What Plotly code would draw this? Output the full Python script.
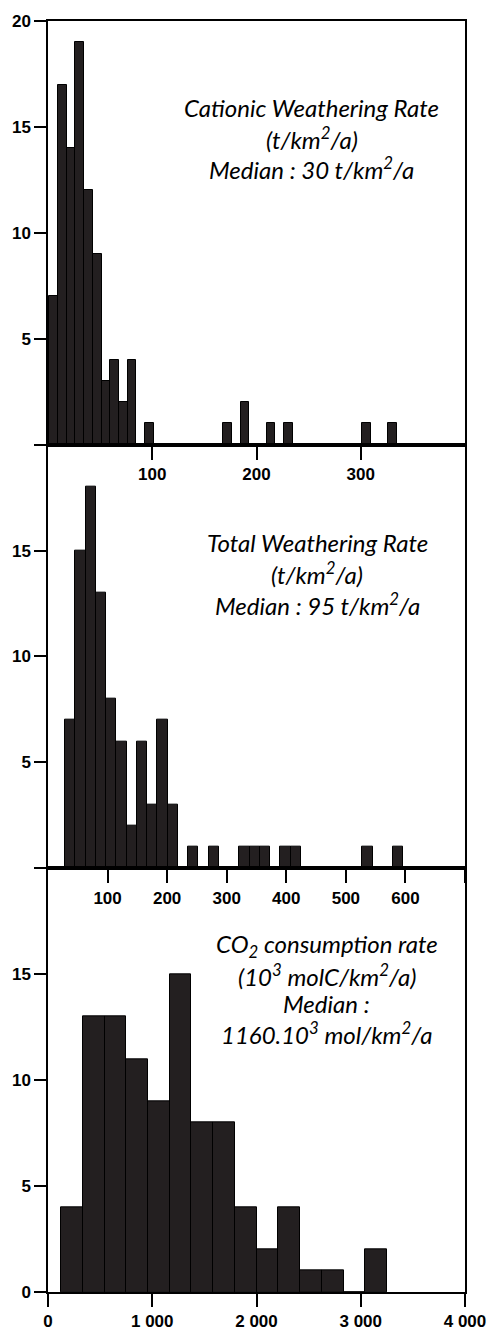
import plotly.graph_objects as go
from plotly.subplots import make_subplots

# ---------------- data ----------------
cation_counts = [7, 17, 14, 19, 12, 9, 3, 4, 2, 4,
                 0, 1, 0, 0, 0, 0, 0, 0, 0, 0,
                 1, 0, 2, 0, 0, 1, 0, 1, 0, 0,
                 0, 0, 0, 0, 0, 0, 1, 0, 0, 1]
cation_start = 1.3
cation_width = 8.34

total_counts = [7, 15, 18, 13, 8, 6, 2, 6, 3, 7, 3,
                0, 1, 0, 1, 0, 0, 1, 1, 1, 0, 1, 1,
                0, 0, 0, 0, 0, 0, 1, 0, 0, 1]
total_start = 28.8
total_width = 17.2

co2_counts = [4, 13, 13, 11, 9, 15, 8, 8, 4, 2, 4, 1, 1, 0, 2]
co2_start = 125
co2_width = 208.5

cation_xticks = [100, 200, 300]
total_xticks = [100, 200, 300, 400, 500, 600, 700]
total_xlabels = ["100", "200", "300", "400", "500", "600", ""]
co2_xticks = [0, 1000, 2000, 3000, 4000]
co2_xlabels = ["0", "1 000", "2 000", "3 000", "4 000"]

y1_ticks, y1_labels = [0, 5, 10, 15, 20], ["", "5", "10", "15", "20"]
y2_ticks, y2_labels = [0, 5, 10, 15], ["", "5", "10", "15"]
y3_ticks, y3_labels = [0, 5, 10, 15], ["0", "5", "10", "15"]

texts1 = ["Cationic Weathering Rate", "(t/km<sup>2</sup>/a)", "Median : 30 t/km<sup>2</sup>/a"]
texts2 = ["Total Weathering Rate", "(t/km<sup>2</sup>/a)", "Median : 95 t/km<sup>2</sup>/a"]
texts3 = ["CO<sub>2</sub> consumption rate", "(10<sup>3</sup> molC/km<sup>2</sup>/a)",
          "Median :", "1160.10<sup>3</sup> mol/km<sup>2</sup>/a"]

# ---------------- figure ----------------
fig = make_subplots(rows=3, cols=1, vertical_spacing=0)

BAR_FILL = "#231f20"


def add_hist(counts, start, width, row):
    centers = [start + width * (i + 0.5) for i in range(len(counts))]
    fig.add_trace(go.Bar(x=centers, y=counts, width=width,
                         marker=dict(color=BAR_FILL, line=dict(color="black", width=1)),
                         showlegend=False, hoverinfo="x+y"), row=row, col=1)


add_hist(cation_counts, cation_start, cation_width, 1)
add_hist(total_counts, total_start, total_width, 2)
add_hist(co2_counts, co2_start, co2_width, 3)

tickfont = dict(family="Liberation Sans, Arial, sans-serif", size=17, color="black", weight="bold")

xcfg = [(1, [0, 400], cation_xticks, [str(v) for v in cation_xticks]),
        (2, [0, 700], total_xticks, total_xlabels),
        (3, [0, 4000], co2_xticks, co2_xlabels)]
for row, rng, tv, tt in xcfg:
    fig.update_xaxes(row=row, col=1, range=rng, tickmode="array", tickvals=tv, ticktext=tt,
                     showline=True, linecolor="black", linewidth=2, mirror=True,
                     ticks="outside", ticklen=13, tickwidth=1.5, tickcolor="black",
                     tickfont=tickfont, showgrid=False, zeroline=False, fixedrange=True)

ycfg = [(1, y1_ticks, y1_labels), (2, y2_ticks, y2_labels), (3, y3_ticks, y3_labels)]
for row, tv, tt in ycfg:
    fig.update_yaxes(row=row, col=1, range=[0, 20], tickmode="array", tickvals=tv, ticktext=tt,
                     showline=True, linecolor="black", linewidth=1.5, mirror=True,
                     ticks="outside", ticklen=12, tickwidth=1.5, tickcolor="black",
                     tickfont=tickfont, showgrid=False, zeroline=False, fixedrange=True)

ann_font = dict(family="Lato, Open Sans, sans-serif", size=24, color="black")


def add_texts(texts, xc, ys, row):
    xr = "x domain" if row == 1 else f"x{row} domain"
    yr = "y domain" if row == 1 else f"y{row} domain"
    for t, y in zip(texts, ys):
        fig.add_annotation(text=f"<i>{t}</i>", x=xc, y=y, xref=xr, yref=yr,
                           xanchor="center", yanchor="middle", showarrow=False, font=ann_font)


add_texts(texts1, 0.632, [0.795, 0.724, 0.653], 1)
add_texts(texts2, 0.646, [0.770, 0.696, 0.624], 2)
add_texts(texts3, 0.669, [0.818, 0.749, 0.680, 0.611], 3)

fig.update_layout(width=498, height=1343,
                  margin=dict(l=45, r=24, t=14, b=38, pad=0),
                  paper_bgcolor="white", plot_bgcolor="rgba(0,0,0,0)",
                  bargap=0, showlegend=False)

fig.write_html("out.html", config={"displayModeBar": False})
